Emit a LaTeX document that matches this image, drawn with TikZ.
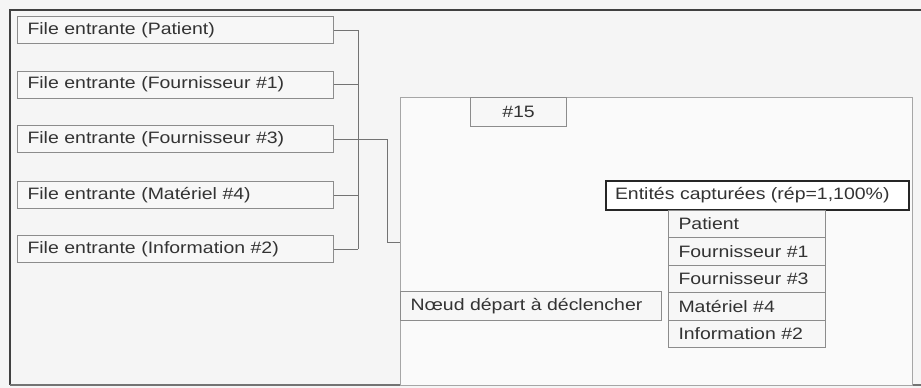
\documentclass[tikz,border=0pt]{standalone}
\usepackage{fontspec}
\setmainfont{Liberation Sans}[FakeStretch=1.18]
\begin{document}
\begin{tikzpicture}[x=1pt,y=-1pt,
  every node/.style={font=\fontsize{16.5}{19}\selectfont, text=black!80},
  gbox/.style={draw=black!45, line width=1pt, fill=black!3, anchor=north west,
    inner xsep=10pt, inner ysep=0pt, align=left},
  leftbox/.style={gbox, text width=296pt, minimum height=27pt},
  listbox/.style={gbox, text width=137pt, minimum height=27.5pt},
  conn/.style={draw=black!55, line width=1pt}
]
\useasboundingbox (0,0) rectangle (921,388);
\fill[black!4] (0,0) rectangle (921,388);
% outer frame
\draw[black!75, line width=2.5pt] (921,10) -- (10,10) -- (10,385);
\draw[black!55, line width=2pt] (10,385) -- (921,385);
% inner box
\node[draw=black!35, line width=1pt, fill=black!2, anchor=north west,
  minimum width=512pt, minimum height=288pt, inner sep=0pt] (inner) at (400,97) {};
% left boxes
\node[leftbox] (f1) at (17,16) {File entrante (Patient)};
\node[leftbox] (f2) at (17,70.5) {File entrante (Fournisseur \#1)};
\node[leftbox] (f3) at (17,125) {File entrante (Fournisseur \#3)};
\node[leftbox] (f4) at (17,181) {File entrante (Matériel \#4)};
\node[leftbox] (f5) at (17,235) {File entrante (Information \#2)};
% inner content
\node[gbox, minimum width=96pt, minimum height=29pt, inner xsep=0pt, align=center] (n15) at (470,97) {\#15};
\node[draw=black!85, line width=2pt, fill=white, anchor=north west, inner xsep=9pt, inner ysep=0pt,
  text width=285pt, minimum height=29pt, align=left] (ent) at (605,180) {Entités capturées (rép=1,100\%)};
\node[listbox] (l1) at (668,209.5) {Patient};
\node[listbox] (l2) at (668,237) {Fournisseur \#1};
\node[listbox] (l3) at (668,264.5) {Fournisseur \#3};
\node[listbox] (l4) at (668,292) {Matériel \#4};
\node[listbox] (l5) at (668,319.5) {Information \#2};
\node[gbox, text width=241pt, minimum height=29pt] (nd) at (400,291) {Nœud départ à déclencher};
% connectors
\coordinate (bx) at (358,0);
\coordinate (jx) at (387,0);
\coordinate (tgt) at (400,242);
\draw[conn] (f1.east) -- (f1.east -| bx);
\draw[conn] (f2.east) -- (f2.east -| bx);
\draw[conn] (f4.east) -- (f4.east -| bx);
\draw[conn] (f5.east) -- (f5.east -| bx);
\draw[conn] (f1.east -| bx) -- (f5.east -| bx);
\draw[conn] (f3.east) -- (f3.east -| jx) -- (jx |- tgt) -- (tgt);
\end{tikzpicture}
\end{document}
